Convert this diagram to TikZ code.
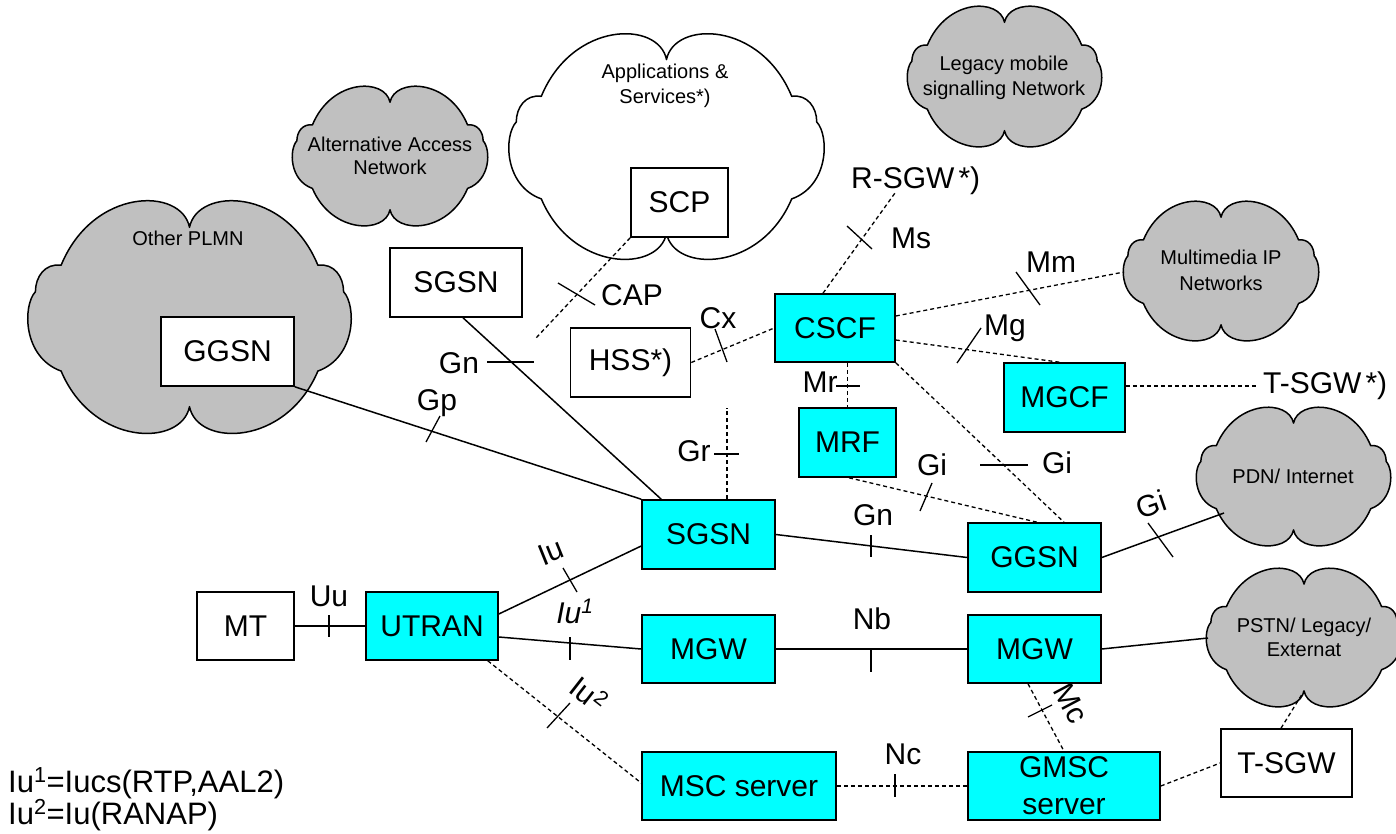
\documentclass[tikz,border=0pt]{standalone}
\usepackage{fontspec}
\setmainfont{Liberation Sans}
\definecolor{boxcyan}{HTML}{00FFFF}
\definecolor{cloudgray}{HTML}{C0C0C0}

% Network cloud outline: centre (#1,#2), half width #3, half height #4, fill #5
\newcommand\netcloud[5]{%
  \begin{scope}[shift={(#1,#2)}, xscale=#3, yscale=#4]
    \filldraw[cloudline, fill=#5] (0,-0.78)
      .. controls (-0.05,-1.13) and (-0.6,-1.13) .. (-0.8,-0.45)
      .. controls (-0.9,-0.47) and (-0.96,-0.35) .. (-0.96,-0.22)
      .. controls (-1.04,-0.1) and (-1.04,0.35) .. (-0.8,0.47)
      .. controls (-0.6,1.13) and (-0.05,1.13) .. (0,0.78)
      .. controls (0.05,1.13) and (0.6,1.13) .. (0.8,0.47)
      .. controls (1.04,0.35) and (1.04,-0.1) .. (0.96,-0.22)
      .. controls (0.96,-0.35) and (0.9,-0.47) .. (0.8,-0.45)
      .. controls (0.6,-1.13) and (0.05,-1.13) .. (0,-0.78) -- cycle;
  \end{scope}}

\begin{document}
\begin{tikzpicture}[x=1pt,y=-1pt,
  box/.style={draw, line width=1.6pt, inner sep=0pt, minimum height=69pt,
    font=\fontsize{30}{37}\selectfont, align=center},
  umts/.style={box, fill=boxcyan},
  plain/.style={box, fill=white},
  link/.style={line width=1.5pt},
  sig/.style={line width=1.3pt, dash pattern=on 4pt off 3pt},
  tick/.style={line width=1.3pt},
  lbl/.style={font=\fontsize{30}{32}\selectfont, inner sep=0pt},
  legend/.style={font=\fontsize{31}{33}\selectfont, inner sep=0pt, anchor=base west},
  cloudtxt/.style={font=\fontsize{20}{24}\selectfont, inner sep=0pt, anchor=base},
  cloudline/.style={line width=1.5pt, line join=round},
]
\useasboundingbox (0,0) rectangle (1396,834);

% ---- clouds ----
\netcloud{189.5}{317}{160.5}{115}{cloudgray}
\netcloud{390}{156}{97}{69}{cloudgray}
\netcloud{666.5}{146.5}{156.5}{111.5}{white}
\netcloud{1004.5}{76.5}{96.5}{69.5}{cloudgray}
\netcloud{1221}{271}{97}{69}{cloudgray}
\netcloud{1293.5}{476.5}{96.5}{68.5}{cloudgray}
\netcloud{1304}{637.5}{97}{68.5}{cloudgray}

\node[cloudtxt] (plmnTxt) at (188,245) {Other PLMN};
\node[cloudtxt] (altTxtA) at (390,152) {Alternative Access};
\node[cloudtxt] (altTxtB) at (390,175) {Network};
\node[cloudtxt] (appTxtA) at (665,79) {Applications \&};
\node[cloudtxt] (appTxtB) at (665,104) {Services*)};
\node[cloudtxt] (legTxtA) at (1004,71) {Legacy mobile};
\node[cloudtxt] (legTxtB) at (1004,96) {signalling Network};
\node[cloudtxt] (mmTxtA) at (1221,265) {Multimedia IP};
\node[cloudtxt] (mmTxtB) at (1221,290) {Networks};
\node[cloudtxt] (pdnTxt) at (1293,483) {PDN/ Internet};
\node[cloudtxt] (pstnTxtA) at (1304,632) {PSTN/ Legacy/};
\node[cloudtxt] (pstnTxtB) at (1304,656) {Externat};

% attachment points on clouds and free line ends
\coordinate (mmA) at (1124,272);
\coordinate (pdnA) at (1224,513);
\coordinate (pstnA) at (1208,638);
\coordinate (pstnB) at (1304,691);
\coordinate (capEnd) at (536,338);
\coordinate (grEnd) at (727,408);

% ---- network elements ----
\node[plain, minimum width=133pt] (plmnggsn) at (227.5,351.5) {GGSN};
\node[plain, minimum width=132pt] (sgsnw) at (456,282.5) {SGSN};
\node[plain, minimum width=120pt] (hss) at (630.5,362.5) {HSS*)};
\node[plain, minimum width=97pt] (scp) at (679.5,202.5) {SCP};
\node[umts, minimum width=120pt, minimum height=68pt] (cscf) at (835,328) {CSCF};
\node[umts, minimum width=97pt] (mrf) at (847.5,442.5) {MRF};
\node[umts, minimum width=121pt] (mgcf) at (1064.5,397.5) {MGCF};
\node[umts, minimum width=133pt] (sgsnc) at (708.5,534.5) {SGSN};
\node[umts, minimum width=133pt] (ggsnc) at (1034.5,557.5) {GGSN};
\node[umts, minimum width=133pt, minimum height=68pt] (mgwl) at (708.5,649) {MGW};
\node[umts, minimum width=133pt, minimum height=68pt] (mgwr) at (1034.5,649) {MGW};
\node[umts, minimum width=194pt, minimum height=68pt] (msc) at (739,786) {MSC server};
\node[umts, minimum width=192pt, minimum height=68pt] (gmsc) at (1064,786) {GMSC\\server};
\node[plain, minimum width=131pt, minimum height=68pt] (tsgw) at (1286.5,763) {T-SGW};
\node[plain, minimum width=97pt, minimum height=68pt] (mt) at (245.5,626) {MT};
\node[umts, minimum width=132pt, minimum height=68pt] (utran) at (432,626) {UTRAN};

\node[font=\fontsize{30}{36}\selectfont, inner sep=0pt, anchor=base west] (rsgw) at (851,189) {R-SGW\hspace{4pt}*)};
\node[font=\fontsize{30}{36}\selectfont, inner xsep=6pt, inner ysep=0pt, anchor=base west] (tsgwstar) at (1257,393) {T-SGW\hspace{4pt}*)};

% ---- bearer connections ----
\draw[link] (plmnggsn.south east) -- (sgsnc.north west);
\draw[link] ([xshift=7pt]sgsnw.south) -- ([xshift=20pt]sgsnc.north west);
\draw[link] ([yshift=12pt]utran.east) -- ([yshift=-11.5pt]sgsnc.west);
\draw[link] ([yshift=-11pt]utran.east) -- (mgwl.west);
\draw[link] (mt) -- (utran);
\draw[link] (sgsnc.east) -- (ggsnc.west);
\draw[link] (mgwl) -- (mgwr);
\draw[link] (ggsnc.east) -- (pdnA);
\draw[link] (mgwr.east) -- (pstnA);

% ---- signalling connections ----
\draw[sig] ([xshift=-11pt]utran.south east) -- ([yshift=3pt]msc.west);
\draw[sig] (scp.south west) -- (capEnd);
\draw[sig] (hss.east) -- (cscf.west);
\draw[sig] ([xshift=18.5pt]sgsnc.north) -- (grEnd);
\draw[sig] (cscf.south -| mrf.north) -- (mrf.north);
\draw[sig] ([xshift=-12pt]cscf.north) -- ([xshift=44pt,yshift=-4pt]rsgw.base west);
\draw[sig] ([yshift=12pt]cscf.east) -- (mmA);
\draw[sig] ([yshift=-12pt]cscf.east) -- ([xshift=-5pt]mgcf.north);
\draw[sig] ([yshift=11.5pt]mgcf.east) -- ([yshift=11.5pt]mgcf.east -| tsgwstar.west);
\draw[sig] (cscf.south east) -- ([xshift=29.5pt]ggsnc.north);
\draw[sig] ([xshift=1.5pt]mrf.south) -- ([xshift=2.5pt]ggsnc.north);
\draw[sig] ([xshift=-6.5pt]mgwr.south) -- (gmsc.north);
\draw[sig] (msc) -- (gmsc);
\draw[sig] (gmsc.east) -- (tsgw.west);
\draw[sig] ([xshift=-5.5pt]tsgw.north) -- (pstnB);

% ---- interface ticks ----
\draw[tick] (426,442) -- (440,416);   % Gp
\draw[tick] (487,362) -- (534,362);   % Gn
\draw[tick] (563,568) -- (577,592);   % Iu
\draw[tick] (570,637) -- (570,660);   % Iu1
\draw[tick] (329,615) -- (329,637);   % Uu
\draw[tick] (547,728) -- (570,703);   % Iu2
\draw[tick] (558,283) -- (595,305);   % CAP
\draw[tick] (715,329) -- (727,362);   % Cx
\draw[tick] (714,454) -- (739,454);   % Gr
\draw[tick] (836,386) -- (860,386);   % Mr
\draw[tick] (847,226) -- (872,249);   % Ms
\draw[tick] (1016,272) -- (1040,305); % Mm
\draw[tick] (957,363) -- (981,328);   % Mg
\draw[tick] (980,465) -- (1028,465);  % Gi
\draw[tick] (920,511) -- (932,483);   % Gi
\draw[tick] (1148,523) -- (1173,557); % Gi
\draw[tick] (871,535) -- (871,557);   % Gn
\draw[tick] (871,648) -- (871,672);   % Nb
\draw[tick] (1028,717) -- (1052,705); % Mc
\draw[tick] (895,774) -- (895,797);   % Nc

% ---- interface labels ----
\node[lbl, anchor=base] (tGp) at (437,410) {Gp};
\node[lbl, anchor=base] (tGnA) at (459,373) {Gn};
\node[lbl, rotate=22] (tIu) at (551,552) {Iu};
\node[lbl, anchor=base, font=\fontsize{30}{32}\selectfont\itshape] (tIuA) at (575,623) {Iu\textsuperscript{1}};
\node[lbl, anchor=base] (tUu) at (329,606) {Uu};
\node[lbl, rotate=-38] (tIuB) at (589,694) {Iu\textsuperscript{2}};
\node[lbl, anchor=base] (tCAP) at (632,305) {CAP};
\node[lbl, anchor=base] (tCx) at (718,328) {Cx};
\node[lbl, anchor=base] (tGr) at (694,461) {Gr};
\node[lbl, anchor=base] (tMr) at (820,392) {Mr};
\node[lbl, anchor=base] (tMs) at (911,248) {Ms};
\node[lbl, anchor=base] (tMm) at (1051,272) {Mm};
\node[lbl, anchor=base] (tMg) at (1005,335) {Mg};
\node[lbl, anchor=base] (tGiA) at (932,475) {Gi};
\node[lbl, anchor=base] (tGiB) at (1057,473) {Gi};
\node[lbl, rotate=19] (tGiC) at (1151,504) {Gi};
\node[lbl, anchor=base] (tGnB) at (873,525) {Gn};
\node[lbl, anchor=base] (tNb) at (872,629) {Nb};
\node[lbl, rotate=-62] (tMc) at (1071,703) {Mc};
\node[lbl, anchor=base] (tNc) at (903,764) {Nc};

% ---- legend ----
\node[legend] (leg1) at (8,792) {Iu\textsuperscript{1}=Iucs(RTP,AAL2)};
\node[legend] (leg2) at (8,824) {Iu\textsuperscript{2}=Iu(RANAP)};
\end{tikzpicture}
\end{document}
